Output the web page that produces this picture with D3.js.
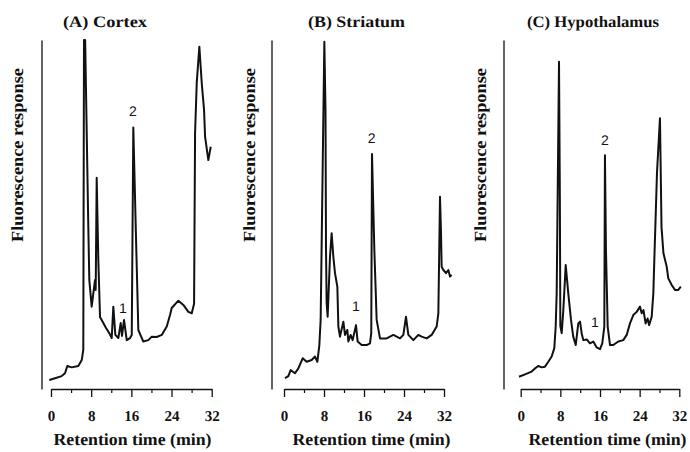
<!DOCTYPE html>
<html>
<head>
	<meta charset="utf-8">
	<script src="https://d3js.org/d3.v7.min.js"></script>
	<title>Chromatograms</title>
	<style>
		body { margin: 0; background: #fff; }
		svg text { fill: #111; text-rendering: geometricPrecision; }
	</style>
</head>
<body>
	<div id="chart"></div>

	<script type="text/javascript">

		// panel titles and tick values
		var panelTitles = ["(A) Cortex", "(B) Striatum", "(C) Hypothalamus"];
		var majorTicks = [0, 8, 16, 24, 32];
		var minorTicks = [4, 12, 20, 28];
		var peakNames = ["1", "2"];

		// (A) Cortex: retention time (min) and response (arbitrary units, 0-100)
		var cortexTime = [-0.34, 0.8, 2.13, 2.79, 3.25, 4.12, 5.44, 6.12, 6.43, 6.57, 6.8, 7.43, 7.63, 8.1, 8.76, 8.9, 9.1, 9.42, 9.62, 9.76,
			10.42, 10.96, 11.61, 12.09, 12.41, 12.81, 13.41, 13.88, 14.14, 14.54, 15.08, 15.74, 16.08, 16.39, 16.9, 17.39, 18.39, 19.38, 20.06,
			21.06, 22.05, 23.05, 23.7, 24.04, 25.36, 26.35, 27.35, 28.03, 28.49, 28.69, 29.02, 29.54, 30.02, 30.48, 30.68, 31.33, 31.81];
		var cortexResp = [2.6, 3.1, 3.7, 4.5, 6.6, 6.2, 6.6, 8.3, 11.2, 100, 100, 46.4, 31.2, 23.6, 31.2, 28.4, 60.5, 37, 27.5, 20.6,
			18.9, 17.5, 16, 14.6, 23.6, 15.5, 14.6, 18.9, 15.2, 19.8, 14, 14.6, 15.5, 74.9, 45, 16.9, 13.6, 14, 15,
			14.9, 15.5, 17.9, 21.2, 23.2, 25.3, 24.1, 22.1, 21.7, 24.4, 73.4, 87.7, 98.1, 87.6, 79.9, 72.3, 65.6, 69.4];

		// (B) Striatum
		var striatumTime = [0.2, 0.87, 1.33, 2.2, 2.87, 3.73, 4.53, 5.53, 6.2, 6.67, 7.07, 7.33, 8.07, 8.3, 8.4, 8.53, 8.73, 9.2, 9.53, 9.87,
			10.2, 10.67, 10.87, 11.2, 11.87, 12.2, 12.67, 12.87, 13.33, 13.73, 14.4, 14.73, 15.53, 16.53, 17.2, 17.45, 17.6, 18.07, 18.53,
			19.2, 20.53, 21.87, 23.2, 23.87, 24.4, 24.87, 25.87, 26.87, 27.53, 28.53, 29.53, 30.53, 30.87, 31.2, 31.4, 31.53, 31.87,
			32.4, 32.87, 33.2, 33.53];
		var striatumResp = [3.1, 3.7, 5.4, 4.5, 5.9, 8.8, 7.8, 8.3, 9.3, 7.8, 12.6, 19.8, 99.5, 80, 40, 24.6, 20.7, 37.9, 44.6, 37.9,
			33.2, 29.3, 17.9, 15, 19.3, 15.5, 16.9, 13.6, 15.5, 14, 18.3, 13.6, 12.6, 12.6, 13.1, 16, 67.3, 39.8, 19.8,
			14.5, 14.5, 15.5, 14.5, 15.5, 20.7, 15.5, 14, 15.5, 15, 14.5, 15.5, 17.9, 21.7, 55.1, 45, 35, 34.1,
			33.2, 34.1, 32.2, 32.7];

		// (C) Hypothalamus
		var hypoTime = [-0.34, 0.87, 2.2, 2.89, 3.55, 4.24, 4.9, 5.57, 6.25, 6.78, 7.06, 7.26, 7.73, 7.9, 8.0, 8.27, 8.6, 9.08, 9.6, 10.15,
			10.6, 11.1, 11.62, 11.97, 12.3, 12.63, 13.32, 13.98, 14.65, 15.33, 16, 16.46, 16.87, 17.0, 17.2, 17.55, 18.02, 18.68, 19.69,
			20.7, 21.39, 22.05, 22.72, 23.4, 24.07, 24.41, 24.77, 25.2, 25.6, 25.9, 26.43, 26.76, 26.96, 27.5, 28.1, 28.41, 28.8,
			29.46, 29.78, 30.47, 31.13, 31.8, 32.3];
		var hypoResp = [3.5, 4.2, 5, 5.9, 6.6, 6.2, 6.4, 7.8, 9.3, 11.7, 17.9, 27.4, 93.8, 55, 18, 16, 22.6, 35.5, 27.4, 19.8,
			15, 12.6, 18.8, 19.3, 16, 14, 14.2, 13.1, 13.6, 11.9, 11.4, 13.1, 17.9, 67, 40, 17.9, 12.6, 12.6, 13.6,
			14, 15.5, 18.8, 21.2, 22.1, 23.6, 21.7, 22.6, 18.8, 20.2, 18.3, 20.7, 27.4, 37, 62, 77.6, 46.4, 38.9,
			35, 31.7, 29.8, 28.4, 28.4, 29.3];

		// peak label anchors (time, response) for peaks 1 and 2
		var peakTimeA = [14.34, 16.33], peakRespA = [21.8, 78.2];
		var peakTimeB = [14.4, 17.54], peakRespB = [22.3, 70.5];
		var peakTimeC = [14.98, 17.0], peakRespC = [17.8, 69.9];

		var width = 690, height = 452;
		var serif = "'Liberation Serif', 'Times New Roman', serif";
		var sans = "'Liberation Sans', Arial, sans-serif";

		var svg = d3.select("#chart").append("svg")
			.attr("width", width)
			.attr("height", height);

		// layout of the three panels
		var panels = [
			{ time: cortexTime, resp: cortexResp, pt: peakTimeA, pr: peakRespA,
			  x0: 51, x1: 211.7, yAxisX: 41.5, yLabelX: 22.5, titleX: 105, xLabelX: 132.5 },
			{ time: striatumTime, resp: striatumResp, pt: peakTimeB, pr: peakRespB,
			  x0: 284, x1: 444, yAxisX: 271.5, yLabelX: 255, titleX: 356.5, xLabelX: 371.5 },
			{ time: hypoTime, resp: hypoResp, pt: peakTimeC, pr: peakRespC,
			  x0: 520.7, x1: 679.3, yAxisX: 503.5, yLabelX: 486, titleX: 593, xLabelX: 607.5 }
		];
		var titleLen = [84, 97, 132];

		var y = d3.scaleLinear().domain([0, 100]).range([389, 40]);

		panels.forEach(function(p, i) {
			var x = d3.scaleLinear().domain([0, 32]).range([p.x0, p.x1]);
			var g = svg.append("g");

			// y axis: plain line
			g.append("g")
				.attr("transform", "translate(" + p.yAxisX + ",0)")
				.call(d3.axisLeft(y).tickValues([]).tickSizeOuter(0))
				.select(".domain").attr("stroke", "#111").attr("stroke-width", 1.3);

			// x axis, major ticks with labels
			var xa = g.append("g")
				.attr("transform", "translate(0,389)")
				.call(d3.axisBottom(x).tickValues(majorTicks).tickSize(8).tickSizeOuter(0).tickPadding(13));
			xa.select(".domain").attr("stroke", "#111").attr("stroke-width", 1.3);
			xa.selectAll(".tick line").attr("stroke", "#111").attr("stroke-width", 1.3);
			xa.selectAll(".tick text")
				.attr("font-family", serif)
				.attr("font-size", 15)
				.attr("font-weight", "bold")
				.attr("fill", "#111");

			// minor ticks
			var xm = g.append("g")
				.attr("transform", "translate(0,389)")
				.call(d3.axisBottom(x).tickValues(minorTicks).tickSize(4).tickFormat(""));
			xm.select(".domain").remove();
			xm.selectAll(".tick line").attr("stroke", "#111").attr("stroke-width", 1.2);

			// trace
			var pts = p.time.map(function(t, k) { return [t, p.resp[k]]; });
			var line = d3.line()
				.x(function(d) { return x(d[0]); })
				.y(function(d) { return y(d[1]); });
			g.append("path")
				.datum(pts)
				.attr("d", line)
				.attr("fill", "none")
				.attr("stroke", "#111")
				.attr("stroke-width", 2)
				.attr("stroke-linejoin", "round");

			// peak labels
			g.selectAll(".peak")
				.data(peakNames).enter()
				.append("text")
				.attr("class", "peak")
				.attr("x", function(d, k) { return x(p.pt[k]); })
				.attr("y", function(d, k) { return y(p.pr[k]); })
				.attr("text-anchor", "middle")
				.attr("font-family", sans)
				.attr("font-size", 14)
				.attr("fill", "#111")
				.text(function(d) { return d; });

			// title
			g.append("text")
				.attr("x", p.titleX)
				.attr("y", 27)
				.attr("text-anchor", "middle")
				.attr("font-family", serif)
				.attr("font-size", 16)
				.attr("font-weight", "bold")
				.attr("textLength", titleLen[i])
				.attr("lengthAdjust", "spacingAndGlyphs")
				.text(panelTitles[i]);

			// axis titles
			g.append("text")
				.attr("x", p.xLabelX)
				.attr("y", 445)
				.attr("text-anchor", "middle")
				.attr("font-family", serif)
				.attr("font-size", 17)
				.attr("font-weight", "bold")
				.attr("textLength", 158)
				.attr("lengthAdjust", "spacingAndGlyphs")
				.text("Retention time (min)");

			g.append("text")
				.attr("transform", "translate(" + p.yLabelX + ",155) rotate(-90)")
				.attr("text-anchor", "middle")
				.attr("font-family", serif)
				.attr("font-size", 17)
				.attr("font-weight", "bold")
				.attr("textLength", 174)
				.attr("lengthAdjust", "spacingAndGlyphs")
				.text("Fluorescence response");
		});

	</script>
</body>
</html>
